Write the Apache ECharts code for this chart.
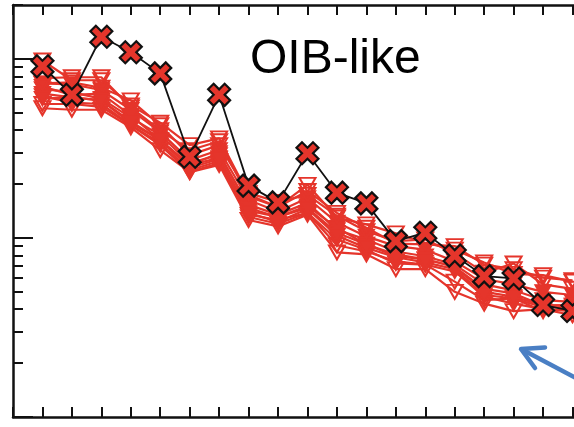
<!DOCTYPE html>
<html>
<head>
<meta charset="utf-8">
<script src="https://cdn.jsdelivr.net/npm/echarts@6/dist/echarts.min.js"></script>
<style>
html,body{margin:0;padding:0;background:#fff;}
#chart{width:574px;height:427px;}
</style>
</head>
<body>
<div id="chart"></div>
<script>
// Category positions (1..19) of the normalized elements
var positions = [1,2,3,4,5,6,7,8,9,10,11,12,13,14,15,16,17,18,19];

// Reference pattern (black line, X markers)
var refValues = [91, 63, 133, 109, 83, 28.4, 63, 19.6, 15.8, 29.7, 17.9, 15.6, 9.6, 10.7, 7.97, 6.12, 5.94, 4.22, 3.91];

// Sample patterns (red lines, down-triangles)
var s1  = [98, 76, 76, 55, 44, 33, 36, 17.4, 14.9, 18.3, 13.8, 11.4, 9.3, 9.2, 9.0, 7.1, 6.7, 6.0, 5.8];
var s2  = [73, 72, 67, 52, 39, 27.2, 31, 16.3, 14.0, 16.7, 12.2, 10.2, 9.0, 8.6, 7.4, 5.9, 5.5, 5.0, 4.8];
var s3  = [68, 65, 60, 47, 37.5, 26.2, 29.1, 15.3, 13.5, 15.7, 11.1, 9.8, 8.4, 7.9, 7.1, 5.5, 5.1, 4.5, 4.4];
var s4  = [64, 61, 58.6, 44.8, 35.2, 25.5, 28.0, 14.2, 13.1, 14.7, 10.7, 9.2, 7.9, 7.6, 6.9, 5.2, 4.9, 4.2, 4.2];
var s5  = [56, 56, 54, 42.6, 33.9, 23.9, 26.9, 13.5, 12.6, 13.8, 9.1, 8.4, 7.4, 7.1, 5.7, 4.5, 4.6, 3.9, 4.0];
var s6  = [62, 57, 56, 42.6, 33.0, 23.3, 26.2, 13.1, 12.0, 13.8, 9.8, 8.6, 7.2, 7.1, 6.5, 4.7, 4.3, 4.0, 3.9];
var s7  = [78, 79, 79, 53.6, 40.0, 30.9, 34.7, 17.0, 14.9, 19.8, 13.0, 11.9, 10.6, 9.4, 8.6, 7.3, 6.3, 6.2, 5.7];
var s8  = [53, 52, 52, 41.5, 30.9, 23.3, 25.6, 12.6, 11.6, 13.5, 8.3, 8.1, 6.7, 6.7, 5.0, 4.3, 3.9, 4.0, 3.7];
var s9  = [70, 63, 64, 48.4, 35.2, 25.5, 29.8, 14.7, 13.1, 15.1, 11.4, 9.2, 8.1, 7.6, 6.9, 5.0, 4.7, 4.2, 4.2];
var s10 = [73, 74, 69, 58.7, 42.6, 29.0, 33.0, 17.8, 15.9, 17.4, 13.3, 10.9, 9.6, 9.8, 8.2, 6.4, 7.2, 5.5, 5.2];
var s11 = [60, 61, 58.6, 43.7, 35.2, 24.6, 27.6, 13.8, 12.3, 14.5, 10.3, 8.8, 7.8, 7.3, 6.7, 4.8, 4.6, 4.1, 4.1];

var sampleSeries = [
  {data: s1, open: true},
  {data: s2, open: false},
  {data: s3, open: false},
  {data: s4, open: false},
  {data: s5, open: true},
  {data: s6, open: false},
  {data: s7, open: true},
  {data: s8, open: true},
  {data: s9, open: false},
  {data: s10, open: true},
  {data: s11, open: false}
];

// Axis tick values
var majorTicks = [1, 10, 100];
var minorTicks = [2,3,4,5,6,7,8,9,20,30,40,50,60,70,80,90,200];

var titleText = 'OIB-like';

var RED = '#e5352b';
var XPATH = 'path://M2.5,0 L5,2.5 L7.5,0 L10,2.5 L7.5,5 L10,7.5 L7.5,10 L5,7.5 L2.5,10 L0,7.5 L2.5,5 L0,2.5 Z';

function pairs(arr) {
  return arr.map(function (v, i) { return [positions[i], v]; });
}

var series = sampleSeries.map(function (s) {
  return {
    type: 'line',
    data: pairs(s.data),
    symbol: 'triangle',
    symbolRotate: 180,
    symbolSize: [16, 14],
    lineStyle: {color: RED, width: 2.2},
    itemStyle: s.open
      ? {color: 'rgba(255,255,255,0)', borderColor: RED, borderWidth: 2}
      : {color: RED, borderColor: RED, borderWidth: 1.5},
    z: 2,
    animation: false,
    clip: false
  };
});

series.push({
  type: 'line',
  data: pairs(refValues),
  symbol: XPATH,
  symbolSize: 22,
  lineStyle: {color: '#111', width: 1.8},
  itemStyle: {color: RED, borderColor: '#111', borderWidth: 2.2},
  z: 5,
  animation: false,
  clip: false
});

var axisLine = {show: true, lineStyle: {color: '#111', width: 2.5}};

var option = {
  animation: false,
  backgroundColor: '#fff',
  grid: {left: 13, right: 0, top: 5, bottom: 10, containLabel: false},
  xAxis: [
    {type: 'value', min: 0, max: 19.05, interval: 1, position: 'bottom',
     axisLine: axisLine, axisTick: {show: true, inside: true, length: 10, lineStyle: {color: '#111', width: 2}},
     axisLabel: {show: false}, splitLine: {show: false}},
    {type: 'value', min: 0, max: 19.05, interval: 1, position: 'top',
     axisLine: axisLine, axisTick: {show: true, inside: true, length: 10, lineStyle: {color: '#111', width: 2}},
     axisLabel: {show: false}, splitLine: {show: false}}
  ],
  yAxis: [
    {type: 'log', min: 1, max: 200, logBase: 10, position: 'left',
     axisLine: axisLine,
     axisTick: {show: true, inside: true, length: 20, customValues: majorTicks, lineStyle: {color: '#111', width: 2}},
     axisLabel: {show: false}, splitLine: {show: false}},
    {type: 'log', min: 1, max: 200, logBase: 10, position: 'left',
     axisLine: {show: false},
     axisTick: {show: true, inside: true, length: 10, customValues: minorTicks, lineStyle: {color: '#111', width: 2}},
     axisLabel: {show: false}, splitLine: {show: false}}
  ],
  series: series,
  graphic: [
    {type: 'text', left: 250, top: 36, z: 10,
     style: {text: titleText, font: '48px "Liberation Sans", Arial, sans-serif', fill: '#000'}},
    {type: 'polyline', z: 10,
     shape: {points: [[576, 378], [522, 349.5]]},
     style: {stroke: '#4a7fc4', lineWidth: 4.5, fill: null}},
    {type: 'polyline', z: 10,
     shape: {points: [[545, 347.5], [521, 349], [535, 368]]},
     style: {stroke: '#4a7fc4', lineWidth: 4.5, fill: null, lineJoin: 'round', lineCap: 'round'}}
  ]
};

var chart = echarts.init(document.getElementById('chart'), null, {renderer: 'canvas'});
chart.setOption(option);
</script>
</body>
</html>
